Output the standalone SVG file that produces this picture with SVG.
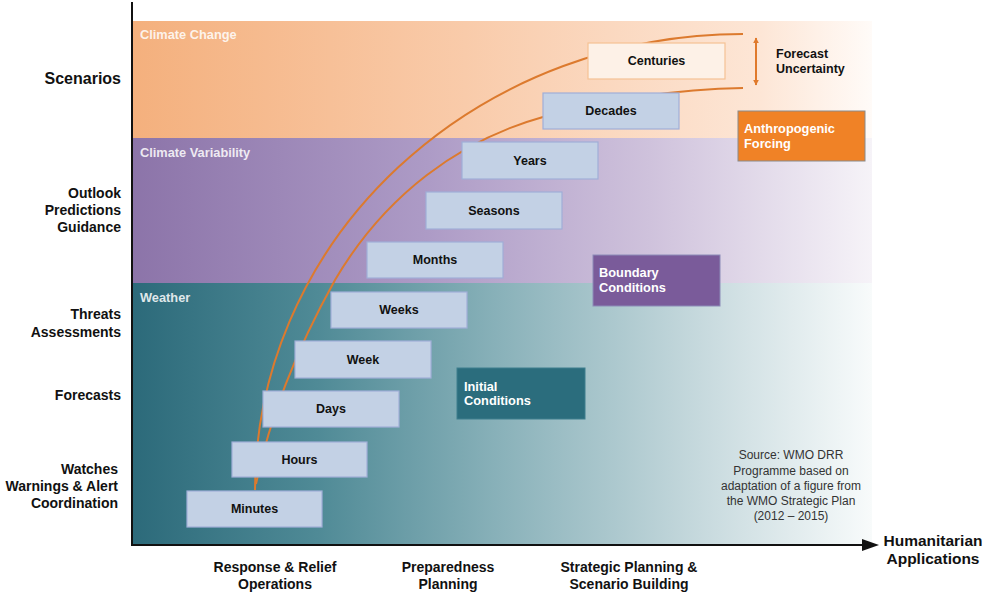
<svg xmlns="http://www.w3.org/2000/svg" width="985" height="594" viewBox="0 0 985 594">
<defs>
<linearGradient id="gOrange" x1="0" y1="0" x2="1" y2="0">
<stop offset="0" stop-color="#F4B07D"/>
<stop offset="0.45" stop-color="#F9CBAA"/>
<stop offset="0.85" stop-color="#FDE6D6"/>
<stop offset="1" stop-color="#FFFBF8"/>
</linearGradient>
<linearGradient id="gPurple" x1="0" y1="0" x2="1" y2="0">
<stop offset="0" stop-color="#8C74A9"/>
<stop offset="0.4" stop-color="#AD9BC6"/>
<stop offset="0.7" stop-color="#CFC2DC"/>
<stop offset="1" stop-color="#F6F3F8"/>
</linearGradient>
<linearGradient id="gTeal" x1="0" y1="0" x2="1" y2="0">
<stop offset="0" stop-color="#2C6A7A"/>
<stop offset="0.25" stop-color="#4F8A96"/>
<stop offset="0.5" stop-color="#8AB2BA"/>
<stop offset="0.78" stop-color="#C9DBDF"/>
<stop offset="1" stop-color="#F8FBFB"/>
</linearGradient>
<marker id="ahead" viewBox="0 0 10 10" refX="9" refY="5" markerWidth="6" markerHeight="6" orient="auto-start-reverse" markerUnits="userSpaceOnUse">
<path d="M0,0 L10,5 L0,10 z" fill="#E07A2C"/>
</marker>
</defs>
<style>
.box{fill:#C3D1E5;stroke:#A0AED7;stroke-width:1.2}
.bl{font-family:"Liberation Sans",Arial,sans-serif;font-weight:bold;font-size:12.5px;fill:#111;text-anchor:middle;dominant-baseline:central}
.side{font-family:"Liberation Sans",Arial,sans-serif;font-weight:bold;font-size:14px;fill:#111;text-anchor:end;dominant-baseline:central}
.bot{font-family:"Liberation Sans",Arial,sans-serif;font-weight:bold;font-size:14px;fill:#111;text-anchor:middle;dominant-baseline:central}
.band{font-family:"Liberation Sans",Arial,sans-serif;font-weight:bold;font-size:12.8px;fill:#FFFFFF;fill-opacity:0.85;dominant-baseline:central}
.wt{font-family:"Liberation Sans",Arial,sans-serif;font-weight:bold;font-size:12.8px;fill:#FFFFFF;dominant-baseline:central}
.curve{fill:none;stroke:#DC7A2E;stroke-width:2}
.src{font-family:"Liberation Sans",Arial,sans-serif;font-size:12px;fill:#333;text-anchor:middle;dominant-baseline:central}
</style>
<rect width="985" height="594" fill="#FFFFFF"/>

<g id="bands">
<rect x="132" y="21" width="740" height="117" fill="url(#gOrange)"/>
<rect x="132" y="138" width="740" height="145" fill="url(#gPurple)"/>
<rect x="132" y="283" width="740" height="262" fill="url(#gTeal)"/>
<text class="band" x="140" y="34">Climate Change</text>
<text class="band" x="140" y="152">Climate Variability</text>
<text class="band" x="140" y="297">Weather</text>
</g>

<g id="connectors">
<path class="curve" d="M255,490 A488,456 0 0 1 743,34"/>
<path class="curve" d="M256,484 C265,440 285,370 335,280 C385,195 460,140 543,117 C600,100 680,89 743,88"/>
<line x1="756" y1="38" x2="756" y2="85" stroke="#E07A2C" stroke-width="2" marker-start="url(#ahead)" marker-end="url(#ahead)"/>
</g>

<g id="axes">
<line x1="132" y1="2" x2="132" y2="546" stroke="#111" stroke-width="2"/>
<line x1="131" y1="545" x2="864" y2="545" stroke="#111" stroke-width="2"/>
<path d="M862,539 L879,545 L862,551 z" fill="#111"/>
</g>

<g id="n-minutes"><rect class="box" x="187" y="491" width="135" height="36"/><text class="bl" x="254.5" y="509">Minutes</text></g>
<g id="n-hours"><rect class="box" x="232" y="442" width="135" height="35"/><text class="bl" x="299.5" y="459.5">Hours</text></g>
<g id="n-days"><rect class="box" x="263" y="391" width="136" height="36"/><text class="bl" x="331" y="409">Days</text></g>
<g id="n-week"><rect class="box" x="295" y="341" width="136" height="37"/><text class="bl" x="363" y="359.5">Week</text></g>
<g id="n-weeks"><rect class="box" x="331" y="292" width="136" height="36"/><text class="bl" x="399" y="310">Weeks</text></g>
<g id="n-months"><rect class="box" x="367" y="242" width="136" height="36"/><text class="bl" x="435" y="260">Months</text></g>
<g id="n-seasons"><rect class="box" x="426" y="192" width="136" height="37"/><text class="bl" x="494" y="210.5">Seasons</text></g>
<g id="n-years"><rect class="box" x="462" y="142" width="136" height="37"/><text class="bl" x="530" y="160.5">Years</text></g>
<g id="n-decades"><rect class="box" x="543" y="93" width="136" height="36"/><text class="bl" x="611" y="111">Decades</text></g>
<g id="n-centuries"><rect x="588" y="43" width="137" height="36" fill="#FDF1E7" stroke="#F5C294" stroke-width="1.2"/><text class="bl" x="656.5" y="61">Centuries</text></g>

<g id="n-anthropogenic"><rect x="738" y="111" width="127" height="50" fill="#F08226" stroke="#8A8A8A" stroke-width="1"/><text class="wt" x="744" y="128">Anthropogenic</text><text class="wt" x="744" y="143">Forcing</text></g>
<g id="n-boundary"><rect x="593" y="255" width="127" height="51" fill="#7A5B9A" stroke="#8C8CB8" stroke-width="1"/><text class="wt" x="599" y="272">Boundary</text><text class="wt" x="599" y="287">Conditions</text></g>
<g id="n-initial"><rect x="457" y="368" width="128" height="51" fill="#2B6D7D" stroke="#3F7F8E" stroke-width="1"/><text class="wt" x="464" y="386">Initial</text><text class="wt" x="464" y="400">Conditions</text></g>

<g id="uncertainty">
<text font-family="Liberation Sans, Arial, sans-serif" font-weight="bold" font-size="12.5" fill="#111" x="776" y="54" dominant-baseline="central">Forecast</text>
<text font-family="Liberation Sans, Arial, sans-serif" font-weight="bold" font-size="12.5" fill="#111" x="776" y="69" dominant-baseline="central">Uncertainty</text>
</g>

<g id="side-labels">
<text class="side" x="121" y="78" style="font-size:16px">Scenarios</text>
<text class="side" x="121" y="193">Outlook</text>
<text class="side" x="121" y="210">Predictions</text>
<text class="side" x="121" y="227">Guidance</text>
<text class="side" x="121" y="314">Threats</text>
<text class="side" x="121" y="332">Assessments</text>
<text class="side" x="121" y="395">Forecasts</text>
<text class="side" x="118" y="469">Watches</text>
<text class="side" x="118" y="486">Warnings &amp; Alert</text>
<text class="side" x="118" y="503">Coordination</text>
</g>

<g id="bottom-labels">
<text class="bot" x="275" y="567">Response &amp; Relief</text>
<text class="bot" x="275" y="584">Operations</text>
<text class="bot" x="448" y="567">Preparedness</text>
<text class="bot" x="448" y="584">Planning</text>
<text class="bot" x="629" y="567">Strategic Planning &amp;</text>
<text class="bot" x="629" y="584">Scenario Building</text>
<text class="bot" x="933" y="540" style="font-size:15.5px">Humanitarian</text>
<text class="bot" x="933" y="558" style="font-size:15.5px">Applications</text>
</g>

<g id="source">
<text class="src" x="791" y="455">Source: WMO DRR</text>
<text class="src" x="791" y="471">Programme based on</text>
<text class="src" x="791" y="486">adaptation of a figure from</text>
<text class="src" x="791" y="501">the WMO Strategic Plan</text>
<text class="src" x="791" y="516">(2012 – 2015)</text>
</g>
</svg>
